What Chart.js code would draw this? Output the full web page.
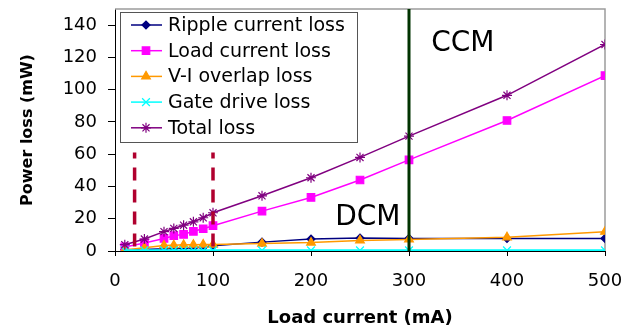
<!DOCTYPE html>
<html>
<head>
<meta charset="utf-8">
<script src="https://cdn.jsdelivr.net/npm/chart.js@4.4.0/dist/chart.umd.min.js"></script>
<style>
  html, body { margin: 0; padding: 0; background: #fff; }
  #wrap { width: 635px; height: 327px; position: relative; }
</style>
</head>
<body>
<div id="wrap"><canvas id="lossChart"></canvas></div>
<script>
// Load current sweep (mA) and loss components (mW)
const loadCurrent = [10, 30, 50, 60, 70, 80, 90, 100, 150, 200, 250, 300, 400, 500];
const rippleLoss  = [0.8, 1.0, 1.4, 1.6, 1.8, 2.0, 2.3, 3.2, 5.5, 7.4, 8.0, 7.8, 7.8, 7.8];
const loadLoss    = [2.5, 5.0, 7.8, 9.5, 10.3, 12.2, 13.8, 15.7, 24.7, 33.2, 44.0, 56.5, 80.9, 108.7];
const overlapLoss = [0.6, 2.0, 3.4, 3.6, 3.8, 3.9, 4.0, 4.0, 4.6, 5.2, 6.5, 7.2, 8.5, 12.0];
const gateLoss    = [0.4, 0.4, 0.4, 0.4, 0.4, 0.4, 0.4, 0.4, 0.4, 0.4, 0.4, 0.4, 0.4, 0.4];
const totalLoss   = [3.9, 7.4, 12.0, 14.0, 16.0, 18.1, 20.6, 23.7, 34.2, 45.4, 58.0, 71.2, 96.5, 128.0];

const seriesNames = ['Ripple current loss', 'Load current loss', 'V-I overlap loss', 'Gate drive loss', 'Total loss'];
const xTickValues = [0, 100, 200, 300, 400, 500];
const yTickValues = [0, 20, 40, 60, 80, 100, 120, 140];

// mode boundaries (mA) and how high the boundary lines reach (mW)
const dcmBounds = [20, 100];
const dcmBoundTop = 61;
const ccmBound = 300;
const ccmBoundTop = 150;

const FONT = 'DejaVu Sans';

function series(label, values, color, style, radius, idx) {
    return {
        label: label,
        inLegend: true,
        order: 10 - idx,   // later series drawn on top, like the original
        data: loadCurrent.map((c, i) => ({ x: c, y: values[i] })),
        borderColor: color,
        backgroundColor: color,
        pointBackgroundColor: color,
        pointBorderColor: color,
        pointStyle: style,
        pointRadius: radius,
        pointBorderWidth: 1.2,
        borderWidth: 1.5,
        tension: 0
    };
}

function vline(xv, top, color, width, dash) {
    return {
        inLegend: false,
        order: 0,
        data: [{ x: xv, y: top }, { x: xv, y: 0 }],
        borderColor: color,
        borderWidth: width,
        borderDash: dash || [],
        borderDashOffset: dash ? 7 : 0,
        pointRadius: 0,
        tension: 0
    };
}

// plot frame, mode labels and the boxed legend inside the plot
const overlayPlugin = {
    id: 'overlay',
    beforeDatasetsDraw(chart) {
        const { ctx, chartArea: a } = chart;
        ctx.save();
        ctx.strokeStyle = '#9c9c9c';
        ctx.lineWidth = 1.5;
        ctx.beginPath();
        ctx.moveTo(a.left, a.top);
        ctx.lineTo(a.right, a.top);
        ctx.lineTo(a.right, a.bottom);
        ctx.stroke();
        ctx.restore();
    },
    afterDatasetsDraw(chart) {
        const { ctx, chartArea: a } = chart;
        const x = chart.scales.x, y = chart.scales.y;
        ctx.save();
        ctx.fillStyle = '#000';
        ctx.font = '28px "' + FONT + '"';
        ctx.textAlign = 'center';
        ctx.textBaseline = 'middle';
        ctx.fillText('CCM', x.getPixelForValue(355), y.getPixelForValue(128.5));
        ctx.fillText('DCM', x.getPixelForValue(258), y.getPixelForValue(20.6));

        const bx = a.left + 5, by = a.top + 3, bw = 237, bh = 130, row = 25.7;
        ctx.fillStyle = '#fff';
        ctx.fillRect(bx, by, bw, bh);
        ctx.strokeStyle = '#555';
        ctx.lineWidth = 1;
        ctx.strokeRect(bx + 0.5, by + 0.5, bw, bh);
        ctx.font = '19px "' + FONT + '"';
        ctx.textAlign = 'left';
        chart.data.datasets.filter(d => d.inLegend).forEach((d, i) => {
            const cy = by + 13 + i * row;
            ctx.strokeStyle = d.borderColor;
            ctx.lineWidth = 1.5;
            ctx.beginPath();
            ctx.moveTo(bx + 11, cy);
            ctx.lineTo(bx + 42, cy);
            ctx.stroke();
            ctx.fillStyle = d.pointBackgroundColor;
            ctx.strokeStyle = d.pointBorderColor;
            ctx.lineWidth = d.pointBorderWidth;
            Chart.helpers.drawPoint(ctx, { pointStyle: d.pointStyle, radius: d.pointRadius, rotation: 0, borderWidth: d.pointBorderWidth }, bx + 26, cy);
            ctx.fillStyle = '#000';
            ctx.fillText(d.label, bx + 48, cy + 1);
        });
        ctx.restore();
    }
};

const datasets = [
    series(seriesNames[0], rippleLoss, '#000080', 'rectRot', 4, 0),
    series(seriesNames[1], loadLoss, '#FF00FF', 'rect', 5.3, 1),
    series(seriesNames[2], overlapLoss, '#FF9900', 'triangle', 5, 2),
    series(seriesNames[3], gateLoss, '#00FFFF', 'crossRot', 5.5, 3),
    series(seriesNames[4], totalLoss, '#800080', 'star', 5, 4),
    vline(dcmBounds[0], dcmBoundTop, '#B0002E', 3.5, [13, 9]),
    vline(dcmBounds[1], dcmBoundTop, '#B0002E', 3.5, [13, 9]),
    vline(ccmBound, ccmBoundTop, '#003300', 3)
];
datasets[3].borderWidth = 2;

new Chart(document.getElementById('lossChart'), {
    type: 'line',
    data: { datasets: datasets },
    options: {
        responsive: true,
        maintainAspectRatio: false,
        animation: false,
        layout: { padding: { top: 9, right: 30, left: 0, bottom: 0 } },
        plugins: {
            legend: { display: false },
            tooltip: { enabled: false }
        },
        scales: {
            x: {
                type: 'linear',
                min: 0,
                max: 500,
                afterBuildTicks(s) { s.ticks = xTickValues.map(v => ({ value: v })); },
                ticks: { color: '#000', font: { family: FONT, size: 18 }, padding: 15, maxRotation: 0 },
                grid: { drawOnChartArea: false, tickLength: 5, color: '#000', tickColor: '#000' },
                border: { color: '#000', width: 1 },
                title: {
                    display: true,
                    text: 'Load current (mA)',
                    color: '#000',
                    font: { family: FONT, size: 18, weight: 'bold', lineHeight: 1 },
                    padding: { top: 0, bottom: 0 }
                },
                afterFit(s) { s.height = 76; s.paddingLeft = 0; s.paddingRight = 0; }
            },
            y: {
                type: 'linear',
                min: 0,
                max: 150,
                afterBuildTicks(s) { s.ticks = yTickValues.map(v => ({ value: v })); },
                ticks: { color: '#000', font: { family: FONT, size: 18 }, padding: 11 },
                grid: { drawOnChartArea: false, tickLength: 7, color: '#000', tickColor: '#000' },
                border: { color: '#000', width: 1 },
                title: {
                    display: true,
                    text: 'Power loss (mW)',
                    color: '#000',
                    font: { family: FONT, size: 16, weight: 'bold' },
                    padding: { top: 18, bottom: 0 }
                },
                afterFit(s) { s.width = 115; s.paddingTop = 0; s.paddingBottom = 0; }
            }
        }
    },
    plugins: [overlayPlugin]
});
</script>
</body>
</html>
